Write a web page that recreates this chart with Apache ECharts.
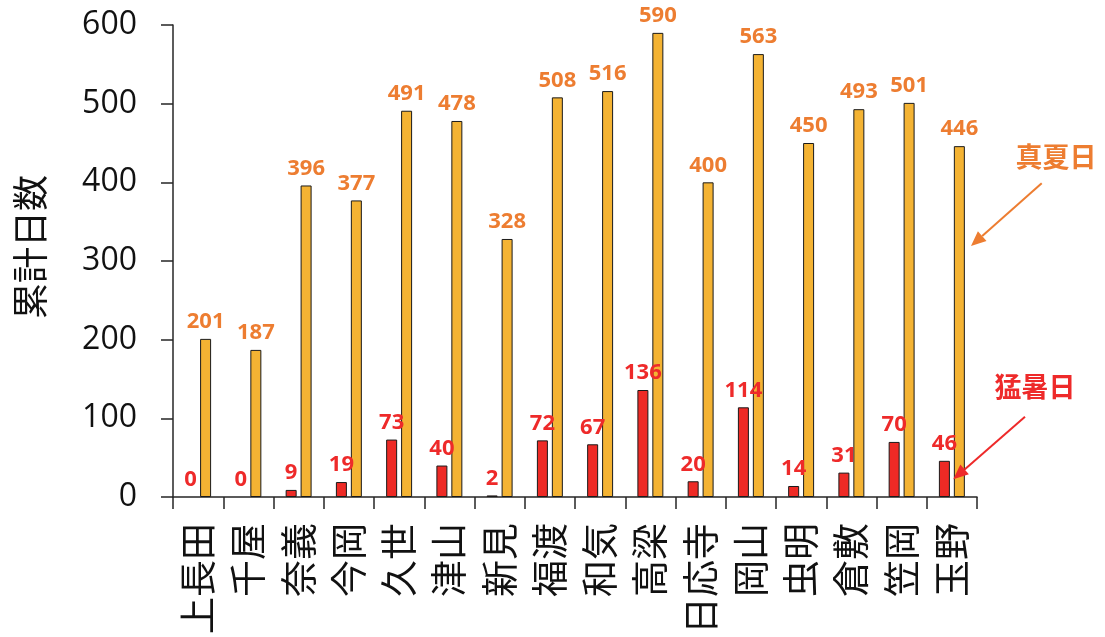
<!DOCTYPE html>
<html>
<head>
<meta charset="utf-8">
<script src="https://cdn.jsdelivr.net/npm/echarts@6/dist/echarts.min.js"></script>
<style>
  html, body { margin: 0; padding: 0; background: #fff; }
  #chart { width: 1105px; height: 637px; }
</style>
</head>
<body>
<div id="chart"></div>
<script>
// Observation stations (Okayama prefecture)
const stations = ['上長田', '千屋', '奈義', '今岡', '久世', '津山', '新見', '福渡', '和気', '高梁', '日応寺', '岡山', '虫明', '倉敷', '笠岡', '玉野'];
// Cumulative count of extreme-heat days (>= 35°C)
const moushobi = [0, 0, 9, 19, 73, 40, 2, 72, 67, 136, 20, 114, 14, 31, 70, 46];
// Cumulative count of midsummer days (>= 30°C)
const manatsubi = [201, 187, 396, 377, 491, 478, 328, 508, 516, 590, 400, 563, 450, 493, 501, 446];
// Value axis ticks
const yTicks = [0, 100, 200, 300, 400, 500, 600];

const RED = '#EE2A25';
const RED_TEXT = '#EE2A2A';
const ORANGE = '#F4B333';
const ORANGE_TEXT = '#ED7D31';
const CJK = '"Noto Sans CJK JP", "Noto Sans", sans-serif';
const NUM = '"Open Sans", "Noto Sans", sans-serif';

// Zero-height bars get no outline so nothing shows on the baseline
function barData(values) {
  return values.map(v => v === 0 ? { value: v, itemStyle: { borderWidth: 0 } } : v);
}

// Callout arrow: a line ending in a filled triangular head at (x2, y2)
function arrow(x1, y1, x2, y2, color) {
  const dx = x2 - x1, dy = y2 - y1;
  const len = Math.sqrt(dx * dx + dy * dy);
  const ux = dx / len, uy = dy / len;
  const px = -uy, py = ux;
  const headLen = 15, headHalf = 6.5;
  const bx = x2 - ux * headLen, by = y2 - uy * headLen;
  return [
    { type: 'line', z: 100, shape: { x1: x1, y1: y1, x2: bx, y2: by },
      style: { stroke: color, lineWidth: 2 } },
    { type: 'polygon', z: 100,
      shape: { points: [[x2, y2], [bx + px * headHalf, by + py * headHalf], [bx - px * headHalf, by - py * headHalf]] },
      style: { fill: color } }
  ];
}

const chart = echarts.init(document.getElementById('chart'));

const valueLabel = color => ({
  show: true,
  position: 'top',
  distance: 6,
  color: color,
  fontSize: 22,
  fontWeight: 'bold',
  fontFamily: NUM
});

chart.setOption({
  animation: false,
  backgroundColor: '#ffffff',
  grid: { left: 173, right: 128, top: 25, bottom: 138, containLabel: false },
  xAxis: {
    type: 'category',
    data: stations,
    axisLine: { show: true, lineStyle: { color: '#262626', width: 1.5 } },
    axisTick: { show: true, length: 12, lineStyle: { color: '#262626', width: 1.5 } },
    axisLabel: {
      rotate: 90,
      margin: 26,
      color: '#111',
      fontSize: 37,
      fontFamily: CJK,
      interval: 0
    }
  },
  yAxis: {
    type: 'value',
    min: yTicks[0],
    max: yTicks[yTicks.length - 1],
    interval: yTicks[1] - yTicks[0],
    splitLine: { show: false },
    axisLine: { show: true, lineStyle: { color: '#262626', width: 1.5 } },
    axisTick: { show: true, length: 12, lineStyle: { color: '#262626', width: 1.5 } },
    axisLabel: {
      margin: 36,
      color: '#111',
      fontSize: 32,
      fontFamily: NUM
    }
  },
  series: [
    {
      name: '猛暑日',
      type: 'bar',
      data: barData(moushobi),
      barWidth: 11,
      barGap: '36%',
      itemStyle: { color: RED, borderColor: '#1a1a1a', borderWidth: 1 },
      label: valueLabel(RED_TEXT)
    },
    {
      name: '真夏日',
      type: 'bar',
      data: barData(manatsubi),
      barWidth: 11,
      itemStyle: { color: ORANGE, borderColor: '#1a1a1a', borderWidth: 1 },
      label: valueLabel(ORANGE_TEXT)
    }
  ],
  graphic: [
    {
      type: 'text',
      x: 30, y: 247,
      rotation: Math.PI / 2,
      style: {
        text: '累計日数',
        fill: '#111',
        font: '36px ' + CJK,
        align: 'center',
        verticalAlign: 'middle'
      }
    },
    {
      type: 'text',
      x: 1056, y: 157,
      style: {
        text: '真夏日',
        fill: ORANGE_TEXT,
        font: 'bold 27px ' + CJK,
        align: 'center',
        verticalAlign: 'middle'
      }
    },
    {
      type: 'text',
      x: 1035, y: 387,
      style: {
        text: '猛暑日',
        fill: RED_TEXT,
        font: 'bold 27px ' + CJK,
        align: 'center',
        verticalAlign: 'middle'
      }
    }
  ].concat(
    arrow(1041.7, 183.3, 971, 246, ORANGE_TEXT),
    arrow(1025, 416.7, 953.3, 479.3, RED_TEXT)
  )
});
</script>
</body>
</html>
